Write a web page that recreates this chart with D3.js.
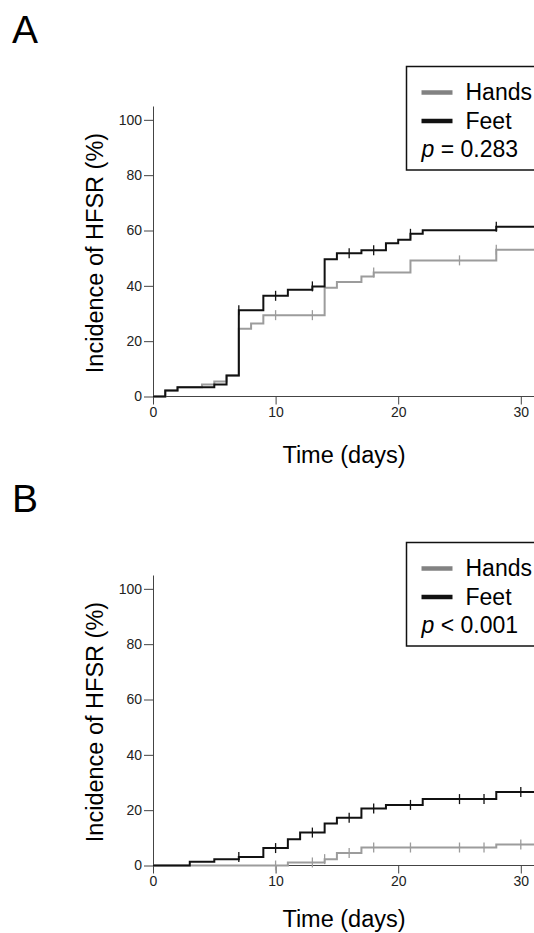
<!DOCTYPE html>
<meta charset="utf-8">
<style>
  body { margin: 0; background: #fff; }
  svg { display: block; }
  text { font-family: "Liberation Sans", Arial, sans-serif; }
</style>
<svg width="534" height="933"></svg>
<script src="https://cdn.jsdelivr.net/npm/d3@7"></script>
<script>

// panel A: step times (days) and cumulative incidence (%)
var handsA_t = [0, 1, 2, 4, 5, 6, 7, 8, 9, 14, 15, 17, 18, 21, 28];
var handsA_v = [0, 2.2, 3.3, 4.3, 5.4, 7.6, 24.5, 26.4, 29.4, 39.3, 41.4, 43.4, 44.8, 49.2, 53.0];
var handsA_cens = [10, 13, 18, 25, 28];
var feetA_t = [0, 1, 2, 5, 6, 7, 9, 11, 13, 14, 15, 17, 19, 20, 21, 22, 28];
var feetA_v = [0, 2.2, 3.3, 4.3, 7.6, 31.2, 36.4, 38.6, 39.8, 49.6, 51.8, 52.9, 55.4, 56.7, 58.8, 60.1, 61.4];
var feetA_cens = [7, 10, 13, 16, 18, 21, 28];

// panel B
var handsB_t = [0, 11, 14, 15, 17, 28];
var handsB_v = [0, 1.1, 2.3, 4.5, 6.5, 7.6];
var handsB_cens = [10, 13, 14, 16, 18, 21, 25, 27, 30];
var feetB_t = [0, 3, 5, 7, 9, 11, 12, 14, 15, 17, 19, 22, 28];
var feetB_v = [0, 1.4, 2.3, 3.1, 6.3, 9.5, 11.9, 15.2, 17.3, 20.6, 21.9, 24.0, 26.6];
var feetB_cens = [7, 10, 13, 16, 18, 21, 25, 27, 30];

var xTicks = [0, 10, 20, 30];
var yTicks = [0, 20, 40, 60, 80, 100];
var seriesNames = ["Hands", "Feet"];
var pLabels = ["= 0.283", "< 0.001"];
var panelLetters = ["A", "B"];

var svg = d3.select("svg"),
    width = +svg.attr("width");

var colors = { Hands: "#9c9c9c", Feet: "#111111" },
    legendColors = { Hands: "#828282", Feet: "#111111" };

var panels = [
  { dy: 0, legendTop: 66.5, titleY: 66, p: pLabels[0], letter: panelLetters[0],
    series: [
      { name: "Hands", t: handsA_t, v: handsA_v, cens: handsA_cens },
      { name: "Feet", t: feetA_t, v: feetA_v, cens: feetA_cens }
    ] },
  { dy: 469, legendTop: 542.5, titleY: 61.5, p: pLabels[1], letter: panelLetters[1],
    series: [
      { name: "Hands", t: handsB_t, v: handsB_v, cens: handsB_cens },
      { name: "Feet", t: feetB_t, v: feetB_v, cens: feetB_cens }
    ] }
];

var x = d3.scaleLinear().domain([0, 30]).range([153, 520.8]);
var y = d3.scaleLinear().domain([0, 105]).range([396.5, 106]);
var xEnd = x.invert(width);

var line = d3.line()
    .curve(d3.curveStepAfter)
    .x(function(d) { return x(d[0]); })
    .y(function(d) { return y(d[1]); });

function valueAt(s, t) {
  var i = d3.bisectRight(s.t, t) - 1;
  return s.v[Math.max(i, 0)];
}

panels.forEach(function(p) {
  var g = svg.append("g").attr("transform", "translate(0," + p.dy + ")");

  g.append("text")
      .attr("x", 12)
      .attr("y", 43)
      .attr("font-size", 39)
      .text(p.letter);

  // axes
  var xAxis = g.append("g")
      .attr("transform", "translate(0," + y(0) + ")")
      .call(d3.axisBottom(x).tickValues(xTicks).tickSize(8).tickPadding(3).tickSizeOuter(0));
  xAxis.select(".domain").attr("d", "M" + x(0) + ",0H" + width);

  var yAxis = g.append("g")
      .attr("transform", "translate(" + x(0) + ",0)")
      .call(d3.axisLeft(y).tickValues(yTicks).tickSize(9).tickPadding(2).tickSizeOuter(0));

  [xAxis, yAxis].forEach(function(a) {
    a.selectAll(".domain, line").attr("stroke", "#444");
    a.selectAll("text").attr("font-size", 14).attr("fill", "#222")
        .attr("font-family", '"Liberation Sans", Arial, sans-serif');
  });

  g.append("text")
      .attr("x", (x(0) + width) / 2 + 0.5)
      .attr("y", y(0) + p.titleY)
      .attr("text-anchor", "middle")
      .attr("font-size", 23.5)
      .text("Time (days)");

  g.append("text")
      .attr("transform", "translate(103," + 253 + ")rotate(-90)")
      .attr("text-anchor", "middle")
      .attr("font-size", 23.5)
      .text("Incidence of HFSR (%)");

  // curves, hands first so feet sits on top
  p.series.forEach(function(s) {
    var pts = s.t.map(function(t, i) { return [t, s.v[i]]; });
    pts.push([xEnd, s.v[s.v.length - 1]]);
    g.append("path")
        .attr("d", line(pts))
        .attr("fill", "none")
        .attr("stroke", colors[s.name])
        .attr("stroke-width", 2);

    g.append("g").selectAll("line")
      .data(s.cens)
      .enter().append("line")
        .attr("x1", function(d) { return x(d); })
        .attr("x2", function(d) { return x(d); })
        .attr("y1", function(d) { return y(valueAt(s, d)) - 5; })
        .attr("y2", function(d) { return y(valueAt(s, d)) + 5; })
        .attr("stroke", colors[s.name])
        .attr("stroke-width", 1.3);
  });

  // legend, box runs off the right edge like the original
  var lx = 406.5, ly = p.legendTop;
  var legend = g.append("g").attr("transform", "translate(" + lx + "," + (ly - p.dy) + ")");
  legend.append("rect")
      .attr("width", 160)
      .attr("height", 103.5)
      .attr("fill", "#fff")
      .attr("stroke", "#111")
      .attr("stroke-width", 1.5);

  seriesNames.forEach(function(name, i) {
    var row = legend.append("g").attr("transform", "translate(0," + (33.5 + i * 28.5) + ")");
    row.append("line")
        .attr("x1", 15).attr("x2", 46)
        .attr("y1", -7.5).attr("y2", -7.5)
        .attr("stroke", legendColors[name])
        .attr("stroke-width", 4.5);
    row.append("text")
        .attr("x", 59)
        .attr("font-size", 23)
        .text(name);
  });

  var pt = legend.append("text")
      .attr("x", 15)
      .attr("y", 90.6)
      .attr("font-size", 23);
  pt.append("tspan").attr("font-style", "italic").text("p");
  pt.append("tspan").text(" " + p.p);
});

</script>
